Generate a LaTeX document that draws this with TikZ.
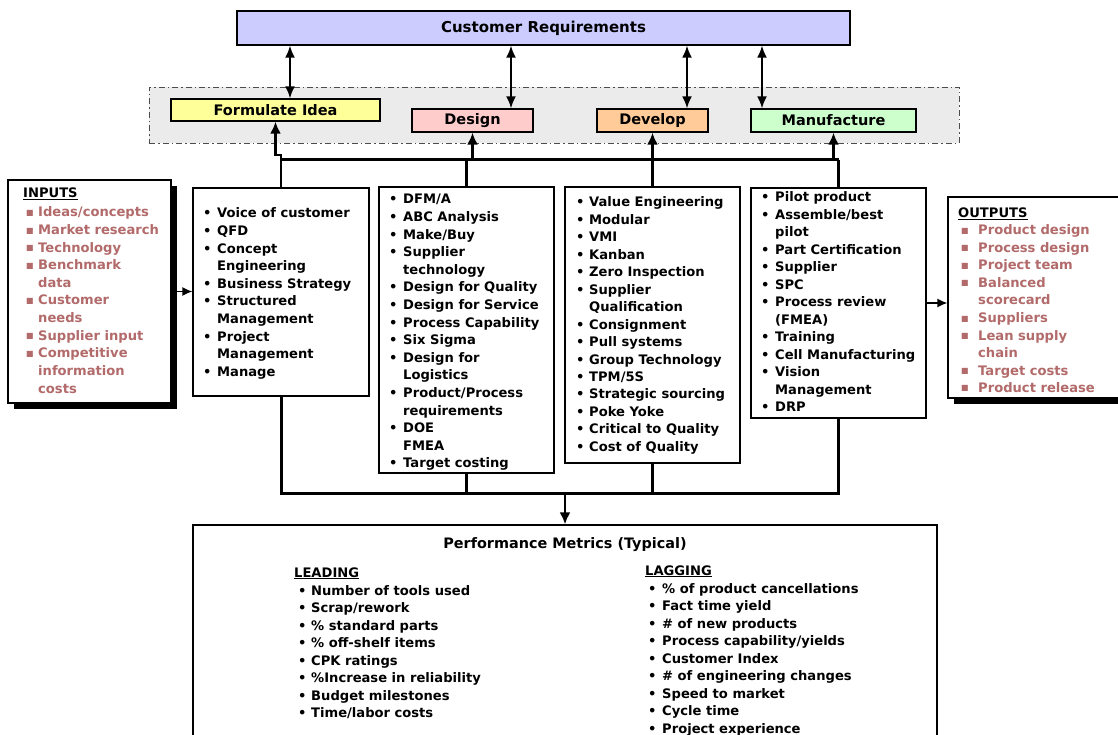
\documentclass[tikz,border=0pt]{standalone}
\usepackage{fontspec}
\setmainfont{DejaVu Sans}
\usetikzlibrary{arrows.meta,shadows}
\definecolor{redtxt}{RGB}{178,106,106}
\definecolor{crfill}{RGB}{204,204,255}
\definecolor{fifill}{RGB}{255,255,153}
\definecolor{defill}{RGB}{255,204,204}
\definecolor{dvfill}{RGB}{255,204,153}
\definecolor{mffill}{RGB}{204,255,204}
\definecolor{areafill}{RGB}{235,235,235}
\newlength\bw
\newcommand\bu{\makebox[\bw][l]{•}}
\newcommand\rb{\makebox[\bw][l]{\raisebox{1.5pt}{\fontsize{8}{8}\selectfont ■}}}
\newcommand\ct{\hspace*{\bw}}
\tikzset{
  box/.style={draw, line width=1.2pt, fill=white, inner sep=0pt},
  stage/.style={draw, line width=1.3pt, inner sep=0pt, font=\fontsize{14.5}{17}\selectfont\bfseries},
  dbl/.style={{Latex[length=12pt,width=10pt]}-{Latex[length=12pt,width=10pt]}, line width=2pt},
  bus/.style={line width=3pt},
  uparr/.style={-{Latex[length=12pt,width=11pt]}, line width=2.6pt},
  sidearr/.style={-{Latex[length=10pt,width=9pt]}, line width=1.4pt},
  listtext/.style={anchor=base west, inner sep=0pt, align=left},
  shad/.style={general shadow={fill=black, shadow xshift=6pt, shadow yshift=-6pt}}
}
\begin{document}
\begin{tikzpicture}[x=1pt,y=-1pt]
\useasboundingbox (0,0) rectangle (1118,735);
\clip (0,0) rectangle (1118,735);

% stage area
\node[draw=black!70, line width=0.9pt, dash pattern=on 6pt off 3pt on 1.5pt off 3pt,
      fill=areafill, minimum width=810pt, minimum height=56pt, inner sep=0pt] (area) at (554,115) {};

% customer requirements
\node[stage, fill=crfill, minimum width=613pt, minimum height=34pt,
      font=\fontsize{15}{18}\selectfont\bfseries] (cr) at (543.5,28) {Customer Requirements};

% stages
\node[stage, fill=fifill, minimum width=209pt, minimum height=22pt] (fi) at (275.5,110) {Formulate Idea};
\node[stage, fill=defill, minimum width=121pt, minimum height=23pt] (de) at (472.5,120.5) {Design};
\node[stage, fill=dvfill, minimum width=111pt, minimum height=23pt] (dv) at (652.5,120.5) {Develop};
\node[stage, fill=mffill, minimum width=165pt, minimum height=23pt] (mf) at (833.5,120.5) {Manufacture};

% double arrows
\coordinate (a1) at (290,0);
\coordinate (a2) at (511,0);
\coordinate (a3) at (687,0);
\coordinate (a4) at (762,0);
\draw[dbl] (cr.south -| a1) -- (fi.north -| a1);
\draw[dbl] (cr.south -| a2) -- (de.north -| a2);
\draw[dbl] (cr.south -| a3) -- (dv.north -| a3);
\draw[dbl] (cr.south -| a4) -- (mf.north -| a4);

% boxes
\node[box, shad, minimum width=163pt, minimum height=223pt] (in) at (89.5,291.5) {};
\node[box, minimum width=176pt, minimum height=208pt] (b1) at (281,292) {};
\node[box, minimum width=175pt, minimum height=286pt] (b2) at (466.5,330) {};
\node[box, minimum width=175pt, minimum height=276pt] (b3) at (652.5,325) {};
\node[box, minimum width=175pt, minimum height=230pt] (b4) at (838.5,303) {};
\node[box, shad, minimum width=173pt, minimum height=201pt] (out) at (1034.5,297.5) {};
\node[box, minimum width=744pt, minimum height=235pt] (perf) at (565,642.5) {};

% top connectors
\coordinate (bt) at (0,160);
\coordinate (jog) at (0,155);
\draw[bus] (b1.north |- bt) -- (b4.north |- bt);
\draw[uparr] (b1.north) -- (b1.north |- jog) -- (fi.south |- jog) -- (fi.south);
\draw[bus] (b2.north) -- (b2.north |- bt);
\draw[uparr] (de.south |- bt) -- (de.south);
\draw[uparr] (b3.north) -- (dv.south);
\draw[uparr] (mf.south |- bt) -- (mf.south);
\draw[bus] (b4.north) -- (b4.north |- bt);

% bottom connectors
\coordinate (bb) at (0,493);
\draw[bus] (b1.south) -- (b1.south |- bb) -- (b4.south |- bb) -- (b4.south);
\draw[bus] (b2.south) -- (b2.south |- bb);
\draw[bus] (b3.south) -- (b3.south |- bb);
\draw[uparr] (perf.north |- bb) -- (perf.north);

% side arrows
\draw[sidearr] (in.east) -- (in.east -| b1.west);
\draw[sidearr] (b4.east) -- (b4.east -| out.west);

% INPUTS
\node[listtext, font=\fontsize{13.1}{17.5}\selectfont\bfseries] (inh) at (23,198) {\underline{INPUTS}};
\node[listtext, text=redtxt] (inl) at (26,217) {\parbox[t]{140pt}{\setlength\bw{12pt}\fontsize{13.1}{17.6}\selectfont\bfseries
\rb Ideas/concepts\\
\rb Market research\\
\rb Technology\\
\rb Benchmark\\
\ct data\\
\rb Customer\\
\ct needs\\
\rb Supplier input\\
\rb Competitive\\
\ct information\\
\ct costs}};

% box 1
\node[listtext] (l1) at (203,218) {\parbox[t]{165pt}{\setlength\bw{14pt}\fontsize{13.1}{17.6}\selectfont\bfseries
\bu Voice of customer\\
\bu QFD\\
\bu Concept\\
\ct Engineering\\
\bu Business Strategy\\
\bu Structured\\
\ct Management\\
\bu Project\\
\ct Management\\
\bu Manage}};

% box 2
\node[listtext] (l2) at (389,204) {\parbox[t]{165pt}{\setlength\bw{14pt}\fontsize{13.1}{17.6}\selectfont\bfseries
\bu DFM/A\\
\bu ABC Analysis\\
\bu Make/Buy\\
\bu Supplier\\
\ct technology\\
\bu Design for Quality\\
\bu Design for Service\\
\bu Process Capability\\
\bu Six Sigma\\
\bu Design for\\
\ct Logistics\\
\bu Product/Process\\
\ct requirements\\
\bu DOE\\
\ct FMEA\\
\bu Target costing}};

% box 3
\node[listtext] (l3) at (576,207) {\parbox[t]{165pt}{\setlength\bw{13pt}\fontsize{13.1}{17.45}\selectfont\bfseries
\bu Value Engineering\\
\bu Modular\\
\bu VMI\\
\bu Kanban\\
\bu Zero Inspection\\
\bu Supplier\\
\ct Qualification\\
\bu Consignment\\
\bu Pull systems\\
\bu Group Technology\\
\bu TPM/5S\\
\bu Strategic sourcing\\
\bu Poke Yoke\\
\bu Critical to Quality\\
\bu Cost of Quality}};

% box 4
\node[listtext] (l4) at (761,202) {\parbox[t]{165pt}{\setlength\bw{14pt}\fontsize{13.1}{17.5}\selectfont\bfseries
\bu Pilot product\\
\bu Assemble/best\\
\ct pilot\\
\bu Part Certification\\
\bu Supplier\\
\bu SPC\\
\bu Process review\\
\ct (FMEA)\\
\bu Training\\
\bu Cell Manufacturing\\
\bu Vision\\
\ct Management\\
\bu DRP}};

% OUTPUTS
\node[listtext, font=\fontsize{13.1}{17.5}\selectfont\bfseries] (outh) at (958,218) {\underline{OUTPUTS}};
\node[listtext, text=redtxt] (outl) at (961,235) {\parbox[t]{150pt}{\setlength\bw{17pt}\fontsize{13.1}{17.5}\selectfont\bfseries
\rb Product design\\
\rb Process design\\
\rb Project team\\
\rb Balanced\\
\ct scorecard\\
\rb Suppliers\\
\rb Lean supply\\
\ct chain\\
\rb Target costs\\
\rb Product release}};

% performance metrics
\node[anchor=base, inner sep=0pt, font=\fontsize{14.4}{17}\selectfont\bfseries] (pt) at (565,548) {Performance Metrics (Typical)};
\node[listtext, font=\fontsize{13.1}{17.5}\selectfont\bfseries] (ldh) at (294,577) {\underline{LEADING}};
\node[listtext] (ldl) at (298,595) {\parbox[t]{250pt}{\setlength\bw{13pt}\fontsize{13.1}{17.5}\selectfont\bfseries
\bu Number of tools used\\
\bu Scrap/rework\\
\bu \% standard parts\\
\bu \% off-shelf items\\
\bu CPK ratings\\
\bu \%Increase in reliability\\
\bu Budget milestones\\
\bu Time/labor costs}};
\node[listtext, font=\fontsize{13.1}{17.5}\selectfont\bfseries] (lgh) at (645,575) {\underline{LAGGING}};
\node[listtext] (lgl) at (648,593) {\parbox[t]{260pt}{\setlength\bw{14pt}\fontsize{13.1}{17.5}\selectfont\bfseries
\bu \% of product cancellations\\
\bu Fact time yield\\
\bu \# of new products\\
\bu Process capability/yields\\
\bu Customer Index\\
\bu \# of engineering changes\\
\bu Speed to market\\
\bu Cycle time\\
\bu Project experience}};
\end{tikzpicture}
\end{document}
